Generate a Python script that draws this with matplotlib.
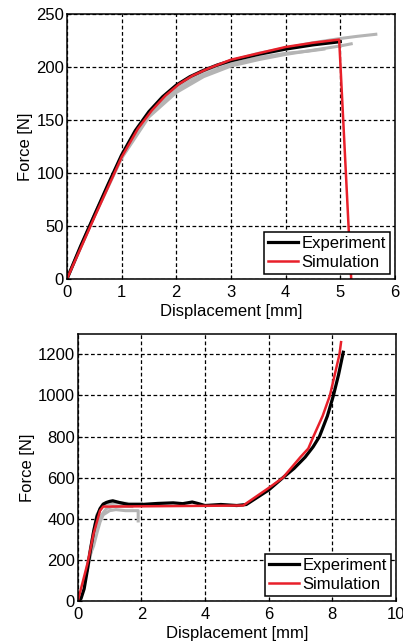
import numpy as np
import matplotlib.pyplot as plt

plt.rcParams['font.family'] = ['Liberation Sans', 'DejaVu Sans']

# top test
exp1_x = [0, 0.25, 0.5, 0.75, 1.0, 1.25, 1.5, 1.75, 2.0, 2.25, 2.5, 2.75, 3.0, 3.5, 4.0, 4.5, 5.0]
exp1_y = [0, 31, 60, 89, 117, 140, 158, 172, 183, 191, 197, 202, 206, 212, 217, 221, 224]
sim1_x = [0, 0.5, 1.0, 1.3, 1.55, 1.8, 2.05, 2.3, 2.6, 3.0, 3.5, 4.0, 4.5, 4.98, 5.2]
sim1_y = [0, 58, 115, 142, 159, 173, 184, 192, 199, 207, 213, 219, 223, 226, 0]
gray1 = [
    ([0, 0.5, 1.0, 1.5, 2.0, 2.5, 3.0, 3.5, 4.0, 4.5, 5.0, 5.3, 5.65],
     [0, 60, 116, 157, 181, 196, 206, 213, 218, 223, 227, 229, 231]),
    ([0, 0.5, 1.0, 1.5, 2.0, 2.5, 3.0, 3.5, 4.0, 4.5, 5.0, 5.2],
     [0, 59, 114, 153, 176, 191, 201, 207, 212, 216, 220, 222]),
    ([0, 0.5, 1.0, 1.5, 2.0, 2.5, 3.0, 3.5, 4.0, 4.4, 4.7],
     [0, 60, 115, 155, 178, 193, 203, 209, 213, 215, 217]),
]

# bottom test
exp2_x = [0, 0.1, 0.2, 0.3, 0.4, 0.5, 0.6, 0.7, 0.8, 0.9, 1.0, 1.1, 1.3, 1.6, 2.0, 2.5, 3.0,
          3.3, 3.6, 3.8, 4.0, 4.5, 5.0, 5.3, 5.6, 6.0, 6.45, 6.8, 7.15, 7.4, 7.6, 7.85,
          8.04, 8.2, 8.35]
exp2_y = [0, 12, 60, 150, 250, 340, 410, 450, 472, 480, 485, 488, 480, 470, 470, 475, 478,
          474, 482, 474, 465, 470, 465, 470, 500, 540, 600, 645, 700, 750, 800, 900,
          1000, 1100, 1210]
sim2_x = [0, 0.3, 0.5, 0.7, 0.8, 1.0, 5.2, 6.0, 6.45, 7.0, 7.25, 7.41, 7.7, 7.93, 8.23, 8.28]
sim2_y = [0, 180, 330, 440, 460, 460, 465, 550, 600, 700, 742, 800, 900, 1000, 1200, 1259]
gray2 = [
    ([0.4, 0.5, 0.6, 0.7, 0.8, 1.0, 1.2, 1.5, 1.9, 1.9],
     [230, 270, 330, 385, 420, 440, 445, 440, 440, 390]),
    ([0.2, 0.4, 0.6, 0.8, 1.0, 1.3, 1.6, 2.0],
     [80, 260, 420, 470, 475, 478, 475, 475]),
    ([0.3, 0.5, 0.7, 0.9, 1.1, 1.4, 1.7],
     [150, 300, 410, 450, 460, 462, 460]),
]

fig = plt.figure(figsize=(4.03, 6.43), dpi=100)
ax1 = fig.add_axes([0.166, 0.566, 0.814, 0.412])
ax2 = fig.add_axes([0.193, 0.065, 0.789, 0.416])

for gx, gy in gray1:
    ax1.plot(gx, gy, color='#b4b4b4', lw=2.2)
ax1.plot(exp1_x, exp1_y, color='black', lw=2.3, label='Experiment')
ax1.plot(sim1_x, sim1_y, color='#e8202a', lw=1.8, label='Simulation')
ax1.set_xlim(0, 6)
ax1.set_ylim(0, 250)
ax1.set_xticks(range(0, 7))
ax1.set_yticks(range(0, 251, 50))

for gx, gy in gray2:
    ax2.plot(gx, gy, color='#b4b4b4', lw=2.2)
ax2.plot(exp2_x, exp2_y, color='black', lw=2.3, label='Experiment')
ax2.plot(sim2_x, sim2_y, color='#e8202a', lw=1.8, label='Simulation')
ax2.set_xlim(0, 10)
ax2.set_ylim(0, 1300)
ax2.set_xticks(range(0, 11, 2))
ax2.set_yticks(range(0, 1201, 200))

for ax in (ax1, ax2):
    ax.grid(True, color='black', linestyle=(0, (3, 2)), lw=0.9)
    ax.tick_params(direction='in', labelsize=12, length=3)
    ax.tick_params(axis='x', pad=4)
    ax.tick_params(axis='y', pad=2)
    ax.set_xlabel('Displacement [mm]', fontsize=12, labelpad=3)
    ax.set_ylabel('Force [N]', fontsize=12, labelpad=2)
    for s in ax.spines.values():
        s.set_linewidth(1.1)
    leg = ax.legend(loc='lower right', fontsize=12, fancybox=False, framealpha=1,
                    edgecolor='black', handlelength=1.8, borderpad=0.25,
                    labelspacing=0.25, handletextpad=0.2, borderaxespad=0.3)
    leg.get_frame().set_linewidth(1.1)

fig.savefig('out.png', dpi=100)
